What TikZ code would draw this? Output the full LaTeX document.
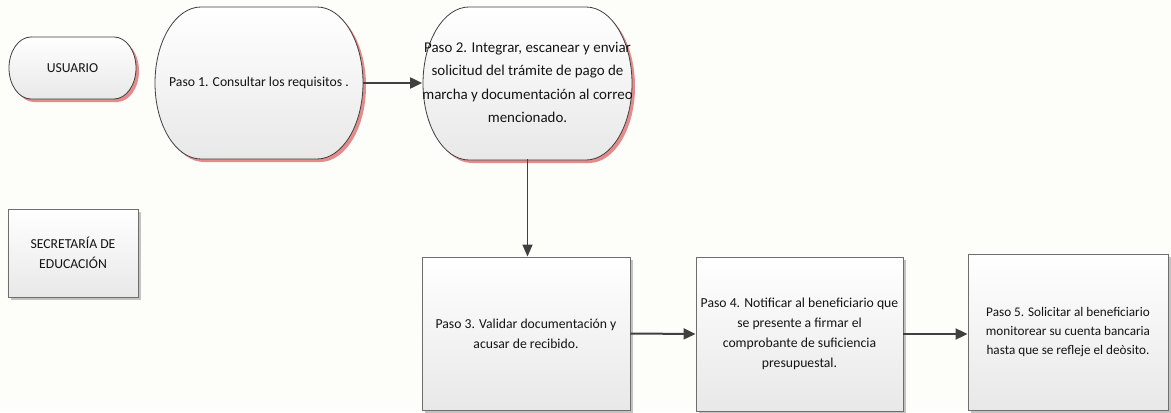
\documentclass[tikz,border=0pt]{standalone}
\usepackage{fontspec}
\setmainfont{Carlito}
\usetikzlibrary{arrows.meta,shadows}
\definecolor{bgcol}{RGB}{253,253,250}
\definecolor{linecol}{RGB}{64,64,64}
\definecolor{boxline}{RGB}{110,110,110}
\definecolor{redshadow}{RGB}{228,140,140}
\definecolor{grayshadow}{RGB}{195,195,195}
\definecolor{fillbot}{RGB}{232,232,232}
\definecolor{txt}{RGB}{20,20,20}
\newcommand{\termpath}[6]{(#1-#3+#5,#2+#4) -- (#1+#3-#5,#2+#4) arc[start angle=90,end angle=0,x radius=#5bp,y radius=#6bp] -- (#1+#3,#2-#4+#6) arc[start angle=0,end angle=-90,x radius=#5bp,y radius=#6bp] -- (#1-#3+#5,#2-#4) arc[start angle=270,end angle=180,x radius=#5bp,y radius=#6bp] -- (#1-#3,#2+#4-#6) arc[start angle=180,end angle=90,x radius=#5bp,y radius=#6bp] -- cycle}
\newcommand{\termshape}[6]{%
  \fill[redshadow] [shift={(3,-3)}] \termpath{#1}{#2}{#3}{#4}{#5}{#6};
  \draw[linecol, line width=0.8bp, top color=white, bottom color=fillbot] \termpath{#1}{#2}{#3}{#4}{#5}{#6};}
\tikzset{
  lbl/.style={align=center, text=txt, font=\fontsize{13.75}{20}\selectfont, inner sep=0pt},
  termnode/.style={lbl, draw=none},
  boxnode/.style={lbl, draw=boxline, line width=0.9bp, top color=white, bottom color=fillbot,
    drop shadow={shadow xshift=3bp, shadow yshift=-3bp, fill=grayshadow, opacity=1}},
  flow/.style={linecol, line width=2bp, -{Triangle[length=12bp,width=11bp]}},
  flowthin/.style={linecol, line width=1.5bp, -{Triangle[length=12bp,width=10bp]}}
}
\begin{document}
\begin{tikzpicture}[x=1bp,y=1bp]
\fill[bgcol] (0,0) rectangle (1171,412);
\useasboundingbox (0,0) rectangle (1171,412);
% terminal shapes
\termshape{72.5}{344}{63.5}{31}{22}{31}
\termshape{259}{329}{104}{76}{46}{76}
\termshape{527.5}{328.5}{104.5}{76.5}{46}{76.5}
\node[termnode, minimum width=127bp, minimum height=62bp] (usr) at (72.5,344) {USUARIO};
\node[termnode, minimum width=208bp, minimum height=152bp] (p1) at (259,329) {Paso 1. Consultar los requisitos .};
\node[termnode, minimum width=209bp, minimum height=153bp, font=\fontsize{15}{23.5}\selectfont] (p2) at (527.5,329.5) {Paso 2. Integrar, escanear y enviar\\solicitud del trámite de pago de\\marcha y documentación al correo\\mencionado.};
% rectangles
\node[boxnode, minimum width=130bp, minimum height=88bp] (sec) at (73,159) {SECRETARÍA DE\\EDUCACIÓN};
\node[boxnode, minimum width=208bp, minimum height=153bp] (p3) at (526,78.5) {Paso 3. Validar documentación y\\acusar de recibido.};
\node[boxnode, minimum width=207bp, minimum height=154bp] (p4) at (799.5,78) {Paso 4. Notificar al beneficiario que\\se presente a firmar el\\comprobante de suficiencia\\presupuestal.};
\node[boxnode, minimum width=200bp, minimum height=156bp, font=\fontsize{13.25}{19.5}\selectfont] (p5) at (1068,80) {Paso 5. Solicitar al beneficiario\\monitorear su cuenta bancaria\\hasta que se refleje el deòsito.};
% connectors
\draw[flow] (p1.east) -- (p1.east -| p2.west);
\draw[flowthin] (p2.south) -- (p2.south |- p3.north);
\draw[flow] (p3.east) -- (p4.west);
\draw[flow] (p4.east) -- (p4.east -| p5.west);
\end{tikzpicture}
\end{document}
